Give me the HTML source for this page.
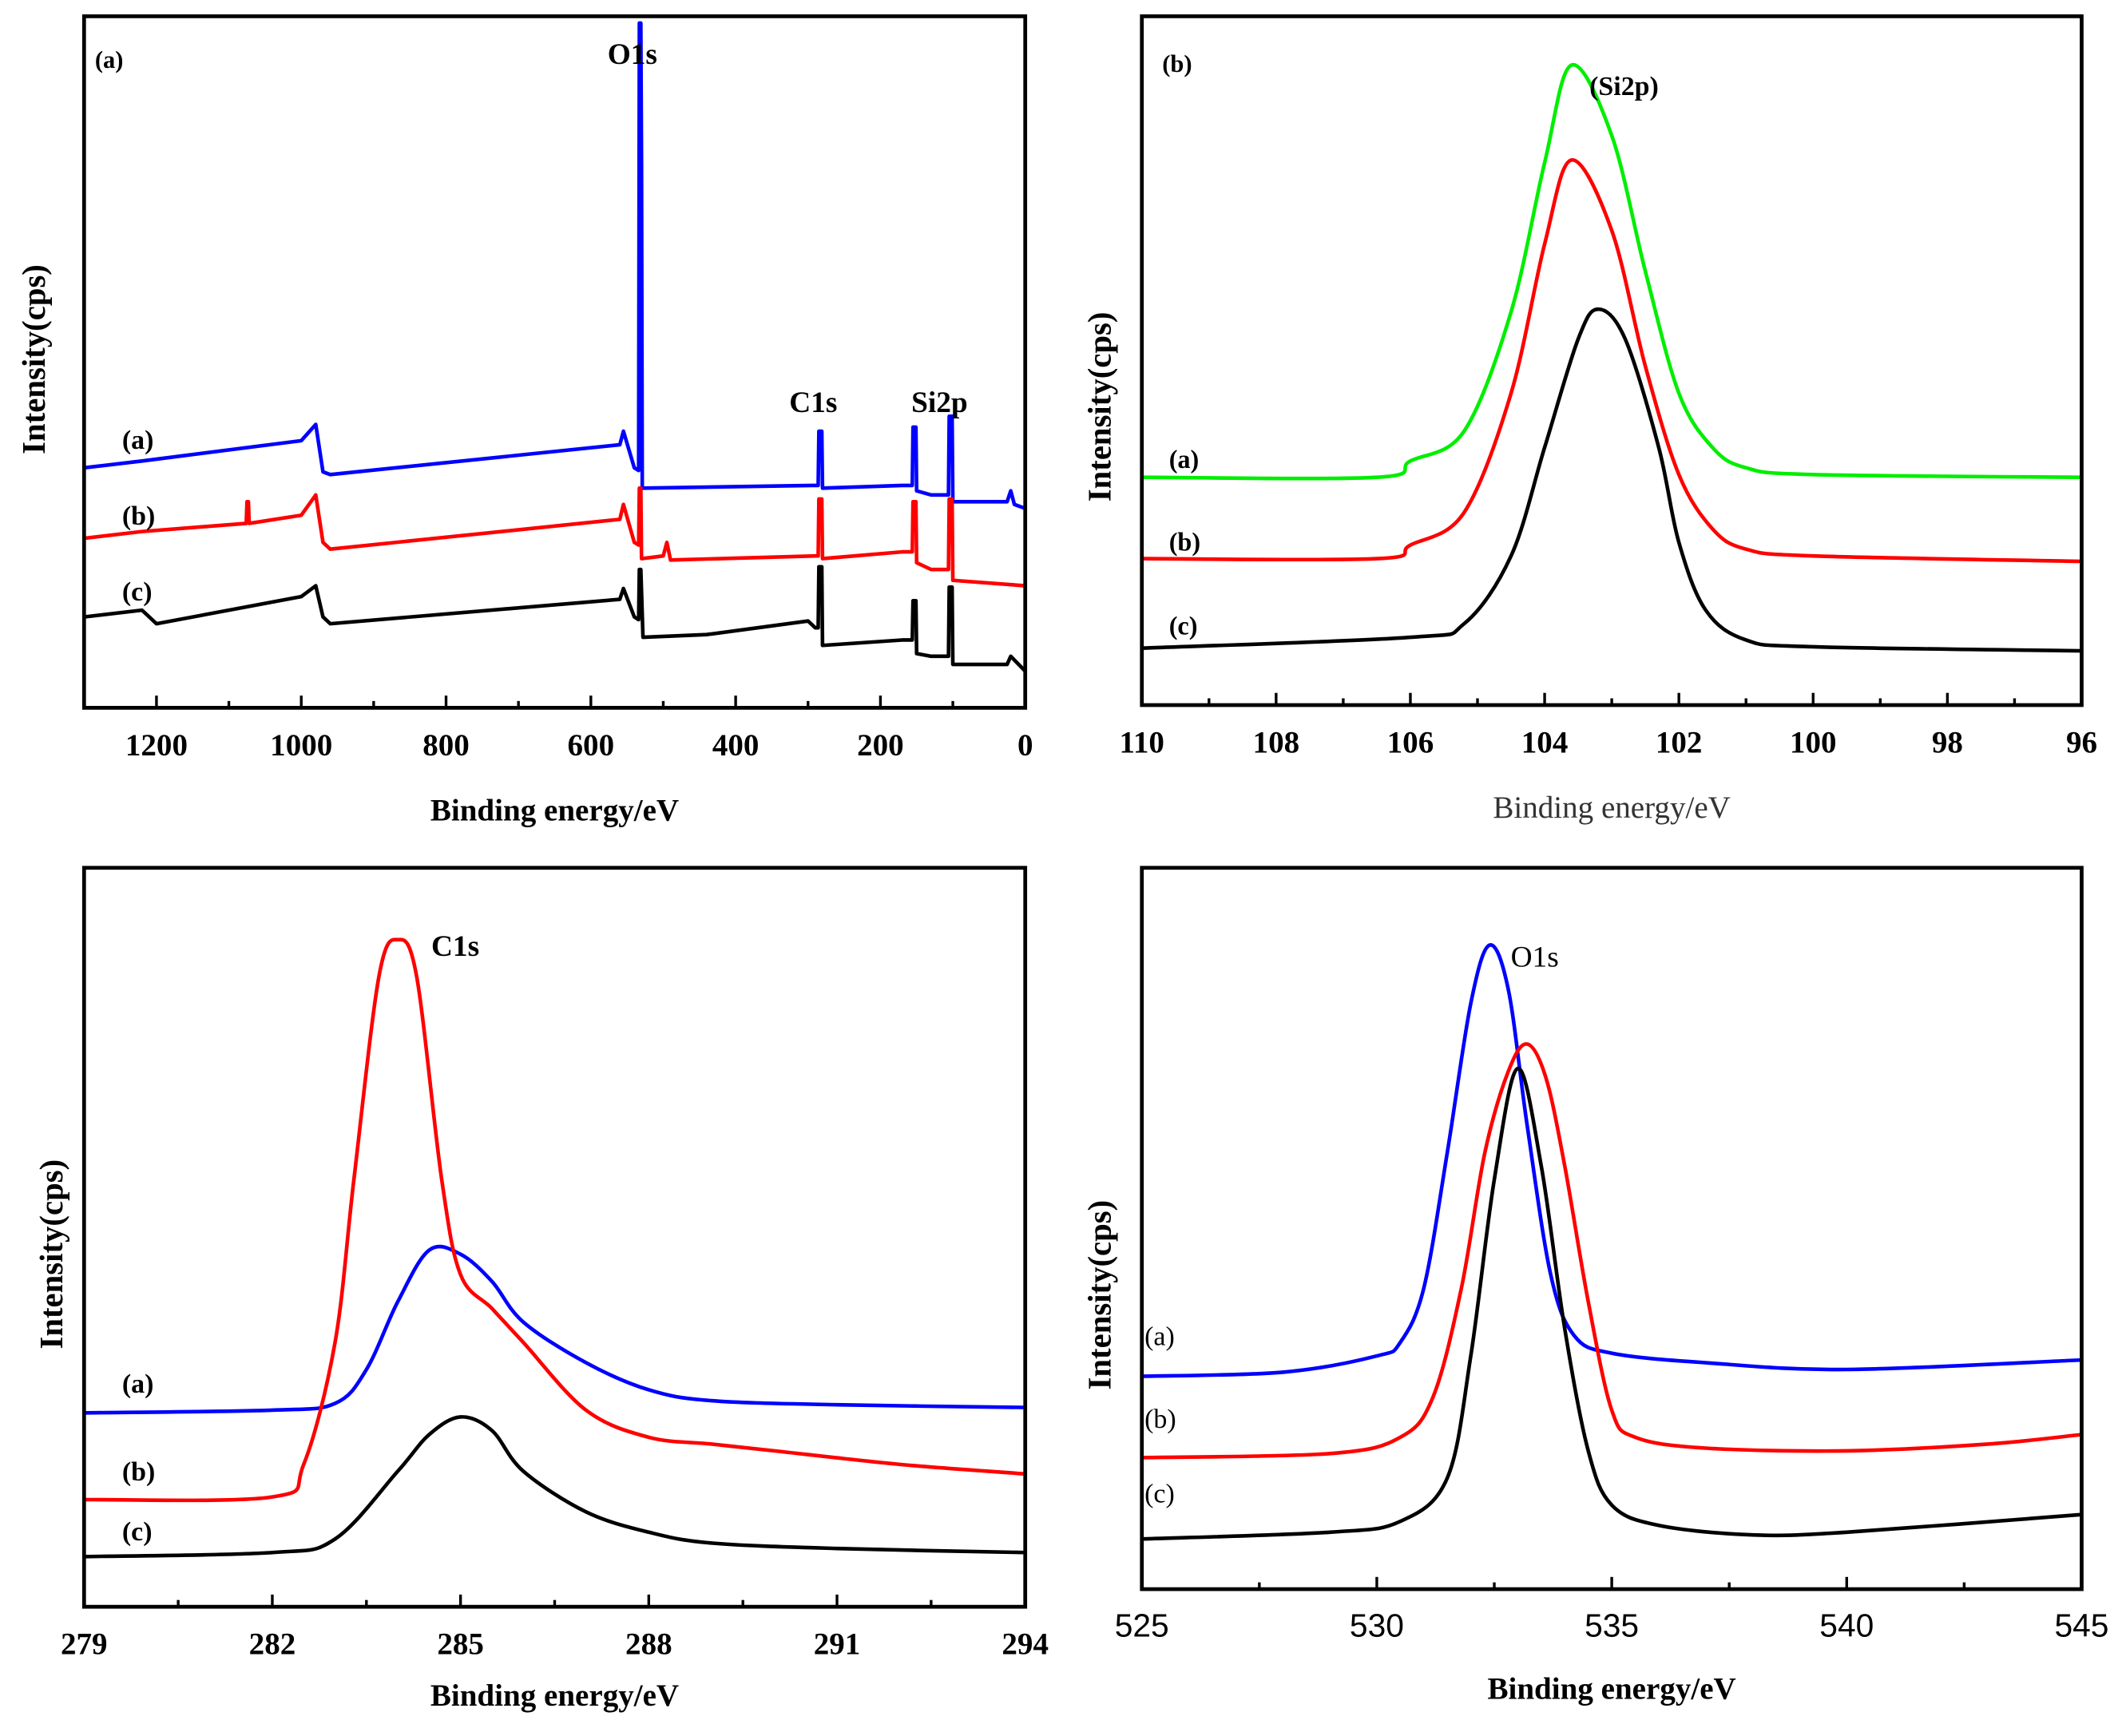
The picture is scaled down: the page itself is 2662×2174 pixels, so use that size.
<!DOCTYPE html>
<html><head><meta charset="utf-8">
<style>
html,body{margin:0;padding:0;background:#fff;}
svg{display:block;}
.serif{font-family:"Liberation Serif",serif;}
.sans{font-family:"Liberation Sans",sans-serif;}
</style></head>
<body>
<svg id="fig" width="2662" height="2174" viewBox="0 0 1567.7 1280.3" xmlns="http://www.w3.org/2000/svg"></svg>
<script>
// ---- Panel (a): survey spectra (binding energy eV, intensity a.u.)
const aBlueX=[1300,1220,1000,980,970,960,560,555,540,534,533,531,530,529,290,286,285,281,280,170,156,155,151,150,130,106,105,101,100,25,20,15,0];
const aBlueY=[177,182,197,209,174,172,194,204,177,175,505,505,400,162,164,164,204,204,162,164,164,207,207,160,157,157,215,215,152,152,160,150,147];
const aRedX=[1300,1220,1076,1075,1073,1072,1000,980,970,960,560,555,540,534,533,531,530,500,495,490,290,286,285,281,280,170,156,155,151,150,130,106,105,101,100,0];
const aRedY=[125,130,136,152,152,136,142,157,122,117,139,150,122,120,162,162,110,112,122,109,112,112,154,154,110,115,115,152,152,107,102,102,154,154,94,90];
const aBlackX=[1300,1220,1200,1000,980,970,960,560,555,540,534,533,531,528,440,300,290,286,285,281,280,170,156,155,151,150,130,106,105,101,100,25,20,0];
const aBlackY=[67,72,62,82,90,67,62,80,88,67,65,102,102,52,54,64,59,59,104,104,46,50,50,79,79,40,38,38,89,89,32,32,38,27];
const aTicks=[1200,1000,800,600,400,200,0];
// ---- Panel (b): Si2p
const bGreenX=[110,106.5,106,105.2,104.5,104,103.6,103,102.5,102,101.5,101,100,96];
const bGreenY=[168,168,180,202,290,400,472,420,320,230,190,175,170,168];
const bRedX=[110,106.5,106,105.2,104.5,104,103.6,103,102.5,102,101.5,101,100,96];
const bRedY=[108,108,118,142,230,340,402,350,250,170,130,115,110,106];
const bBlackX=[110,106,105.2,104.5,104,103.5,103.2,102.8,102.3,102,101.6,101,100,96];
const bBlackY=[42,50,60,110,190,270,292,270,190,120,70,48,43,40];
const bTicks=[110,108,106,104,102,100,98,96];
// ---- Panel (c): C1s
const cBlueX=[279,282,283,283.5,284,284.5,285,285.5,286,287,288,289,291,294];
const cBlueY=[143,145,150,175,225,263,260,240,210,180,160,152,149,147];
const cRedX=[279,282,282.5,283,283.3,283.7,284,284.3,284.7,285,285.5,286,287,288,289,290,292,294];
const cRedY=[79,81,105,195,315,465,492,465,315,245,220,195,145,125,120,115,105,98];
const cBlackX=[279,282,283,284,284.5,285,285.5,286,287,288,289,291,294];
const cBlackY=[37,40,50,100,127,140,130,100,70,55,47,43,40];
const cTicks=[279,282,285,288,291,294];
// ---- Panel (d): O1s
const dBlueX=[525,528,530,530.5,531,531.5,532,532.4,532.8,533.2,533.7,534.2,535,537,540,545];
const dBlueY=[157,160,172,182,222,322,432,475,442,342,232,187,174,167,162,169];
const dRedX=[525,529,530.5,531.2,531.8,532.3,532.8,533.2,533.6,534,534.5,535,535.5,537,540,543,545];
const dRedY=[97,100,112,142,222,322,382,402,377,312,212,132,112,104,102,107,114];
const dBlackX=[525,529,530.5,531.5,532,532.5,533,533.5,534,534.5,535,536,538,540,545];
const dBlackY=[37,42,50,82,172,302,384,312,192,102,62,47,40,42,55];
const dTicks=[525,530,535,540,545];

const NS='http://www.w3.org/2000/svg';
const svg=document.getElementById('fig');
function el(tag,attrs,parent){const e=document.createElementNS(NS,tag);for(const k in attrs)e.setAttribute(k,attrs[k]);(parent||svg).appendChild(e);return e;}
function txt(s,attrs,parent){const e=el('text',attrs,parent);e.textContent=s;return e;}

function panel(o){
  const g=el('g',{});
  
  
  const sx=v=>o.L+(v-o.x0)/(o.x1-o.x0)*(o.R-o.L);
  const sy=v=>o.B-(v/o.ymax)*(o.B-o.T);
  o.series.forEach(s=>{
    let d='';
    const px=s.x.map(sx), py=s.y.map(sy);
    if(!o.smooth){d=px.map((x,i)=>(i?'L':'M')+x.toFixed(2)+' '+py[i].toFixed(2)).join(' ');}
    else{
      d='M'+px[0]+' '+py[0];
      for(let i=0;i<px.length-1;i++){
        const p0=i?i-1:i,p3=i+2<px.length?i+2:i+1;
        const c1x=px[i]+(px[i+1]-px[p0])/6,c1y=py[i]+(py[i+1]-py[p0])/6;
        const c2x=px[i+1]-(px[p3]-px[i])/6,c2y=py[i+1]-(py[p3]-py[i])/6;
        d+=` C${c1x.toFixed(2)} ${c1y.toFixed(2)} ${c2x.toFixed(2)} ${c2y.toFixed(2)} ${px[i+1].toFixed(2)} ${py[i+1].toFixed(2)}`;
      }
    }
    const p=el('path',{d:d,fill:'none',stroke:s.color,'stroke-width':o.sw||2.7,'stroke-linejoin':'round'},g);
    
    
  });
  const fr=el('rect',{x:o.L,y:o.T,width:o.R-o.L,height:o.B-o.T,fill:'none',stroke:'#000','stroke-width':2.8},g);
  
  
  const tk=o.ticks;
  tk.forEach((t,i)=>{
    const x=sx(t);
    el('line',{x1:x,x2:x,y1:o.B,y2:o.B-9,stroke:'#000','stroke-width':2},g);
    if(i<tk.length-1){const xm=sx((t+tk[i+1])/2);el('line',{x1:xm,x2:xm,y1:o.B,y2:o.B-5,stroke:'#000','stroke-width':2},g);}
    const lb=txt(String(t),{x:x,y:o.B+35,'text-anchor':'middle','font-size':o.tfs||20,'font-weight':o.tbold?'bold':'normal','class':o.tcls},g);
    
    
  });
  const xt=txt('Binding energy/eV',{x:(o.L+o.R)/2,y:o.xty,'text-anchor':'middle','font-size':23,'font-weight':o.xtbold?'bold':'normal',fill:o.xtcol||'#000','class':'serif'},g);
  
  
  const yt=txt('Intensity(cps)',{x:0,y:0,transform:`translate(${o.ytx},${o.yty}) rotate(-90)`,'text-anchor':'middle','font-size':24,'font-weight':'bold','class':'serif'},g);
  
  
  o.labels.forEach(l=>{
    const t=txt(l[0],{x:l[1],y:l[2],'font-size':l[3]||18,'font-weight':l[4]?'bold':'normal','class':'serif'},g);
    
    
  });
}

panel({name:'panel-a-survey',L:62,R:756,T:12,B:522,x0:1300,x1:0,ymax:510,smooth:false,ticks:aTicks,tbold:true,tcls:'serif',tfs:23,xty:605,xtbold:true,ytx:33,yty:265,
 series:[{x:aBlueX,y:aBlueY,color:'#0000ff',name:'survey-a-blue'},{x:aRedX,y:aRedY,color:'#ff0000',name:'survey-b-red'},{x:aBlackX,y:aBlackY,color:'#000',name:'survey-c-black'}],
 labels:[['(a)',70,50,18,true,'panel-label'],['O1s',448,47,22,true,'o1s-label'],['C1s',582,304,22,true,'c1s-label'],['Si2p',672,304,22,true,'si2p-label'],
 ['(a)',90,331,20,true,'curve-label-a'],['(b)',90,387,20,true,'curve-label-b'],['(c)',90,443,20,true,'curve-label-c']]});

panel({name:'panel-b-si2p',L:842,R:1535,T:12,B:520,x0:110,x1:96,ymax:508,smooth:true,ticks:bTicks,tbold:true,tcls:'serif',tfs:23,xty:603,xtbold:false,xtcol:'#333',ytx:819,yty:300,
 series:[{x:bGreenX,y:bGreenY,color:'#00ee00',name:'si2p-a-green'},{x:bRedX,y:bRedY,color:'#ff0000',name:'si2p-b-red'},{x:bBlackX,y:bBlackY,color:'#000',name:'si2p-c-black'}],
 labels:[['(b)',857,53,18,true,'panel-label'],['(Si2p)',1172,70,20,true,'si2p-label'],
 ['(a)',862,345,19,true,'curve-label-a'],['(b)',862,406,19,true,'curve-label-b'],['(c)',862,468,19,true,'curve-label-c']]});

panel({name:'panel-c-c1s',L:62,R:756,T:640,B:1185,x0:279,x1:294,ymax:545,smooth:true,ticks:cTicks,tbold:true,tcls:'serif',tfs:23,xty:1258,xtbold:true,ytx:46,yty:925,
 series:[{x:cBlueX,y:cBlueY,color:'#0000ff',name:'c1s-a-blue'},{x:cRedX,y:cRedY,color:'#ff0000',name:'c1s-b-red'},{x:cBlackX,y:cBlackY,color:'#000',name:'c1s-c-black'}],
 labels:[['C1s',318,705,22,true,'c1s-label'],['(a)',90,1027,20,true,'curve-label-a'],['(b)',90,1092,20,true,'curve-label-b'],['(c)',90,1136,20,true,'curve-label-c']]});

panel({name:'panel-d-o1s',L:842,R:1535,T:640,B:1172,x0:525,x1:545,ymax:532,smooth:true,ticks:dTicks,tbold:false,tcls:'sans',tfs:24,xty:1253,xtbold:true,ytx:819,yty:955,
 series:[{x:dBlueX,y:dBlueY,color:'#0000ff',name:'o1s-a-blue'},{x:dRedX,y:dRedY,color:'#ff0000',name:'o1s-b-red'},{x:dBlackX,y:dBlackY,color:'#000',name:'o1s-c-black'}],
 labels:[['O1s',1114,713,22,false,'o1s-label'],['(a)',844,992,20,false,'curve-label-a'],['(b)',844,1053,20,false,'curve-label-b'],['(c)',844,1108,20,false,'curve-label-c']]});
</script>
</body></html>
